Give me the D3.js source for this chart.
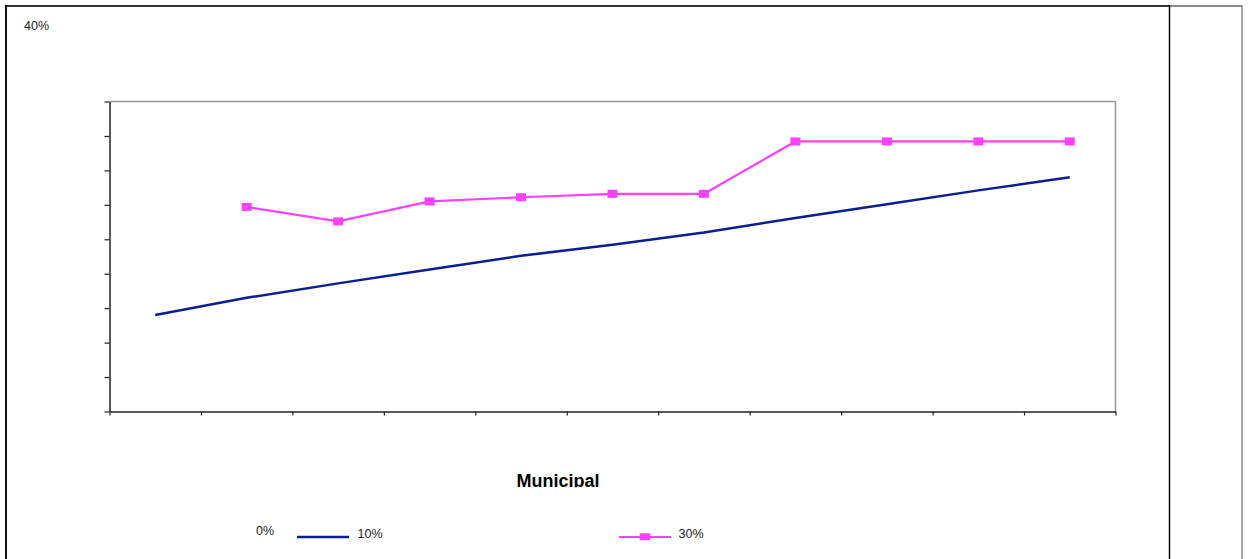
<!DOCTYPE html>
<html>
<head>
<meta charset="utf-8">
<script src="https://cdn.jsdelivr.net/npm/d3@7/dist/d3.min.js"></script>
<style>
  html, body { margin: 0; padding: 0; background: #fff; }
  svg { display: block; font-family: "Liberation Sans", Arial, sans-serif; }
</style>
</head>
<body>
<svg id="chart" width="1250" height="559"></svg>
<script>
// ---- data ----
const categories = ["1", "2", "3", "4", "5", "6", "7", "8", "9", "10", "11"];
const seriesNames = ["10%", "30%"];
const series10 = [14.0, 16.5, 18.6, 20.6, 22.6, 24.2, 26.0, 28.1, 30.1, 32.1, 34.0];
const series30 = [null, 29.7, 27.6, 30.5, 31.1, 31.6, 31.6, 39.2, 39.2, 39.2, 39.2];
const yTicks = [0, 5, 10, 15, 20, 25, 30, 35, 40, 45];
const strayLabels = ["40%", "0%"];
const xTitle = "Municipal";

const colors = ["#0a1f8f", "#ff40ff"];

const svg = d3.select("#chart");
const W = 1250, H = 559;

// outer frames
svg.append("rect").attr("x", 0).attr("y", 0).attr("width", W).attr("height", H).attr("fill", "#fff");
svg.append("line").attr("x1", 1169).attr("x2", 1242).attr("y1", 6).attr("y2", 6)
  .attr("stroke", "#8a8a8a").attr("stroke-width", 2);
svg.append("line").attr("x1", 1242).attr("x2", 1242).attr("y1", 5).attr("y2", H)
  .attr("stroke", "#8a8a8a").attr("stroke-width", 1.5);
svg.append("line").attr("x1", 5).attr("x2", 1169).attr("y1", 6).attr("y2", 6)
  .attr("stroke", "#333").attr("stroke-width", 2);
svg.append("line").attr("x1", 6).attr("x2", 6).attr("y1", 5).attr("y2", H)
  .attr("stroke", "#111").attr("stroke-width", 2);
svg.append("line").attr("x1", 1169.5).attr("x2", 1169.5).attr("y1", 5).attr("y2", H)
  .attr("stroke", "#000").attr("stroke-width", 1.5);

// plot area
const pL = 109.5, pR = 1115.5, pT = 101.5, pB = 411.5;

const x = d3.scaleBand().domain(categories).range([pL, pR]).padding(0);
const xEdge = d3.scaleLinear().domain([0, categories.length]).range([pL, pR]);
const y = d3.scaleLinear().domain([0, 45]).range([pB, pT]);

// plot border (top & right gray)
svg.append("line").attr("x1", pL).attr("x2", pR).attr("y1", pT).attr("y2", pT)
  .attr("stroke", "#999").attr("stroke-width", 1.5);
svg.append("line").attr("x1", pR).attr("x2", pR).attr("y1", pT).attr("y2", pB)
  .attr("stroke", "#999").attr("stroke-width", 1.5);

// y axis
const yAxis = svg.append("g").attr("transform", `translate(${pL},0)`)
  .call(d3.axisLeft(y).tickValues(yTicks).tickSize(5).tickSizeOuter(0).tickFormat(""));
yAxis.select(".domain").attr("stroke", "#222").attr("stroke-width", 1.5);
yAxis.selectAll(".tick line").attr("stroke", "#222").attr("stroke-width", 1.2);

// x axis (ticks at category boundaries)
const xAxis = svg.append("g").attr("transform", `translate(0,${pB})`)
  .call(d3.axisBottom(xEdge).tickValues(d3.range(categories.length + 1)).tickSize(4).tickSizeOuter(0).tickFormat(""));
xAxis.select(".domain").attr("stroke", "#222").attr("stroke-width", 1.5);
xAxis.selectAll(".tick line").attr("stroke", "#222").attr("stroke-width", 1.2);

// lines
const cx = d => x(d) + x.bandwidth() / 2;
const line = d3.line()
  .defined(d => d.v !== null)
  .x(d => cx(d.c))
  .y(d => y(d.v));

const data10 = categories.map((c, i) => ({ c, v: series10[i] }));
const data30 = categories.map((c, i) => ({ c, v: series30[i] }));

svg.append("path").datum(data10).attr("d", line)
  .attr("fill", "none").attr("stroke", colors[0]).attr("stroke-width", 2.5);

svg.append("path").datum(data30).attr("d", line)
  .attr("fill", "none").attr("stroke", colors[1]).attr("stroke-width", 2.2);

const mw = 10, mh = 8;
svg.append("g").selectAll("rect").data(data30.filter(d => d.v !== null)).join("rect")
  .attr("x", d => cx(d.c) - mw / 2).attr("y", d => y(d.v) - mh / 2)
  .attr("width", mw).attr("height", mh).attr("fill", colors[1]);

// stray labels
svg.append("text").attr("x", 24).attr("y", 29.5).attr("font-size", 12.5).attr("fill", "#222")
  .text(strayLabels[0]);
svg.append("text").attr("x", 256).attr("y", 535.3).attr("font-size", 12.5).attr("fill", "#222")
  .text(strayLabels[1]);

// x title, clipped at bottom
svg.append("clipPath").attr("id", "titleclip").append("rect")
  .attr("x", 0).attr("y", 440).attr("width", W).attr("height", 47.3);
svg.append("text").attr("x", 558).attr("y", 487).attr("text-anchor", "middle")
  .attr("font-size", 18).attr("font-weight", "bold").attr("fill", "#000")
  .attr("clip-path", "url(#titleclip)").text(xTitle);

// legend
const legY = 537;
const legend = [
  { name: seriesNames[0], x1: 297, x2: 349, tx: 357.5, color: colors[0], marker: false, w: 2.5 },
  { name: seriesNames[1], x1: 619, x2: 671, tx: 678.5, color: colors[1], marker: true, w: 2.2 }
];
legend.forEach(l => {
  svg.append("line").attr("x1", l.x1).attr("x2", l.x2).attr("y1", legY).attr("y2", legY)
    .attr("stroke", l.color).attr("stroke-width", l.w);
  if (l.marker) {
    const mx = (l.x1 + l.x2) / 2;
    svg.append("rect").attr("x", mx - 5.3).attr("y", legY - 3.7).attr("width", 10.6).attr("height", 7)
      .attr("fill", l.color);
  }
  svg.append("text").attr("x", l.tx).attr("y", legY + 1.3).attr("font-size", 12.5).attr("fill", "#222")
    .text(l.name);
});
</script>
</body>
</html>
